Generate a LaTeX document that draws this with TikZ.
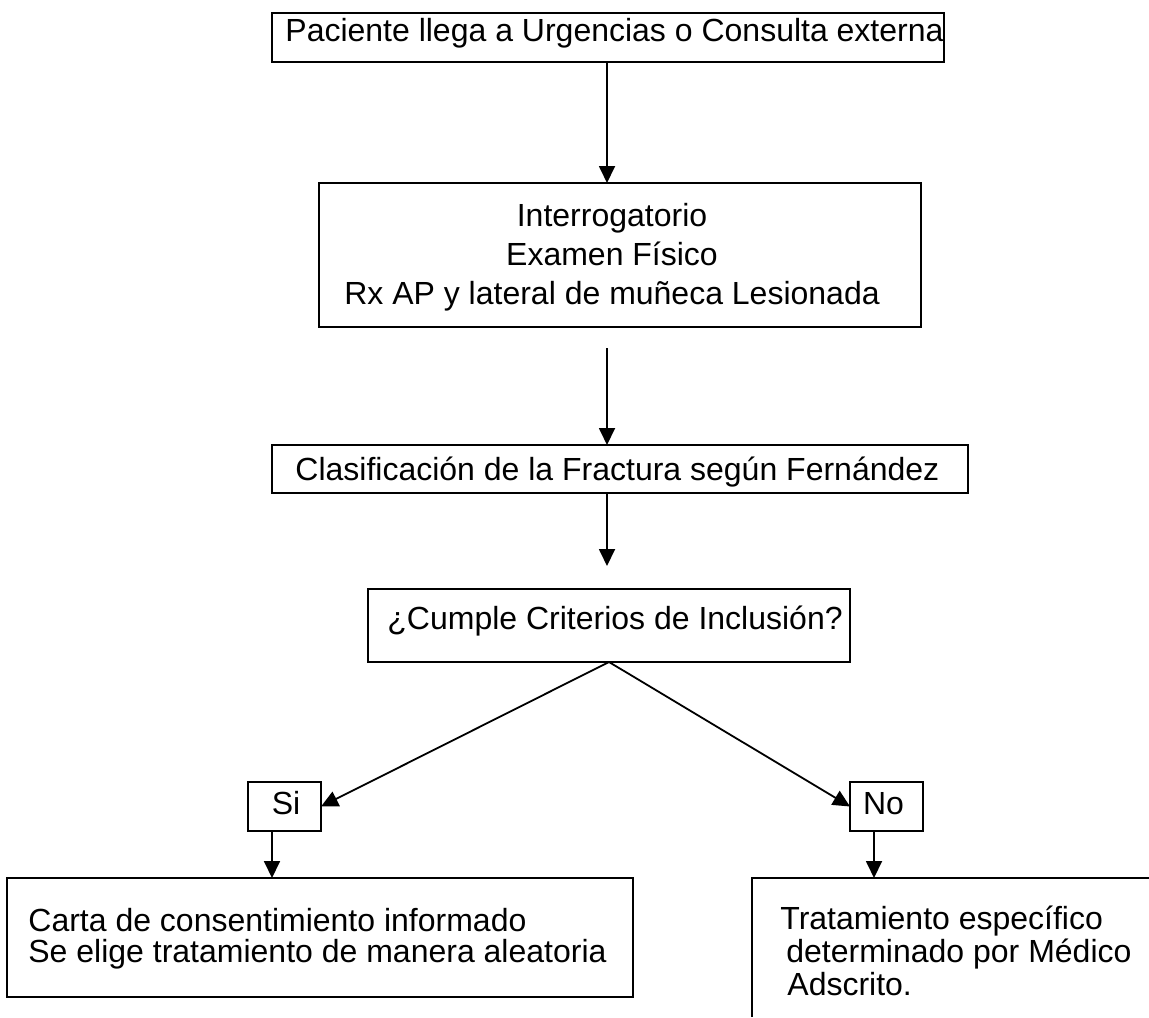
\documentclass[tikz,border=0pt]{standalone}
\usepackage{fontspec}
\setmainfont{Liberation Sans}
\usetikzlibrary{positioning, arrows, arrows.meta}

\tikzset{
  box/.style={draw, line width=0.9pt, inner sep=0pt, outer sep=0pt},
  txt/.style={inner sep=0pt, font=\fontsize{16}{19.5}\selectfont},
  arr/.style={line width=0.9pt, -{Triangle[length=8.5pt, width=8pt]}}
}

\begin{document}
\begin{tikzpicture}[x=0.5pt, y=-0.5pt]
\useasboundingbox (0,0) rectangle (1149,1017);

\node[box, minimum width=336pt, minimum height=24.5pt] (paciente) at (608,37.5) {};
\node[box, minimum width=301pt, minimum height=72pt] (interro) at (620,255) {};
\node[box, minimum width=348pt, minimum height=24pt] (clasif) at (620,469) {};
\node[box, minimum width=241pt, minimum height=36.5pt] (cumple) at (609,625.5) {};
\node[box, minimum width=36.5pt, minimum height=24.5pt] (si) at (284.5,806.5) {};
\node[box, minimum width=36.5pt, minimum height=24.5pt] (no) at (886.5,806.5) {};
\node[box, minimum width=313pt, minimum height=59.5pt] (carta) at (320,937.5) {};
\coordinate (trat) at (752,878);
\draw[line width=0.9pt] (752,1017) -- (trat) -- (1149,878);

\node[txt, anchor=base west] (t-paciente) at (285,41)
    {Paciente llega a Urgencias o Consulta externa};
\node[txt, anchor=north, align=center] (t-interro) at (612,203)
    {Interrogatorio\\Examen Físico\\Rx AP y lateral de muñeca Lesionada};
\node[txt, anchor=base west] (t-clasif) at (295,480)
    {Clasificación de la Fractura según Fernández};
\node[txt, anchor=base west] (t-cumple) at (387,629)
    {¿Cumple Criterios de Inclusión?};
\node[txt, anchor=base] (t-si) at (286,814) {Si};
\node[txt, anchor=base] (t-no) at (883.5,814) {No};
\node[txt, anchor=north west, align=left, font=\fontsize{16}{15.5}\selectfont]
    (t-carta) at (28,908)
    {Carta de consentimiento informado\\Se elige tratamiento de manera aleatoria};
\node[txt, anchor=north west, align=left, font=\fontsize{16}{16.5}\selectfont]
    (t-trat) at (780,906)
    {Tratamiento específico\\\hspace*{3pt}determinado por Médico\\\hspace*{3.5pt}Adscrito.};

\coordinate (ax) at (607,0);
\coordinate (sax) at (272,0);
\coordinate (nax) at (874,0);

\draw
    (paciente.south -| ax) edge[arr] (interro.north -| ax)
    (interro.south -| ax) edge[arr, shorten <=10.5pt] (clasif.north -| ax)
    (clasif.south -| ax) edge[arr, shorten >=11.5pt] (cumple.north -| ax)
    (cumple.south) edge[arr] (si.east)
    (cumple.south) edge[arr] (no.west)
    (si.south -| sax) edge[arr] (carta.north -| sax)
    (no.south -| nax) edge[arr] (trat -| nax)
    ;
\end{tikzpicture}
\end{document}
